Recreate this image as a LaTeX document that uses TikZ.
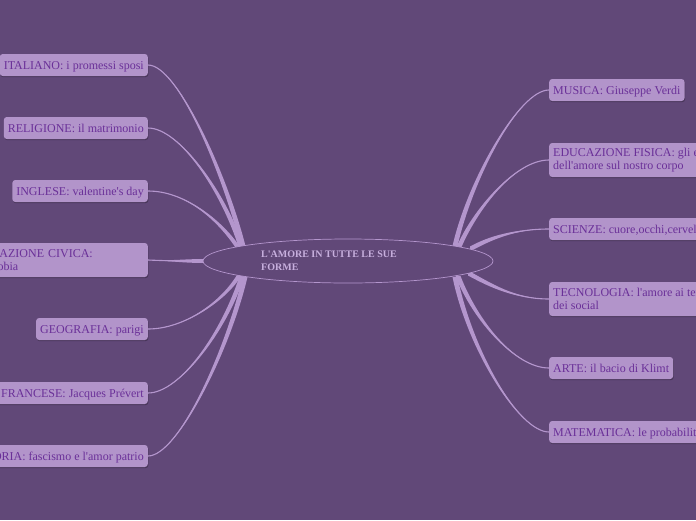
\documentclass[tikz,border=0pt]{standalone}
\usepackage{fontspec}
\setmainfont{Liberation Serif}
\usetikzlibrary{calc,shadows,shapes.geometric}
\definecolor{bg}{RGB}{97,72,120}
\definecolor{boxfill}{RGB}{178,148,202}
\definecolor{boxtext}{RGB}{106,48,152}
\definecolor{linec}{RGB}{180,150,205}
\definecolor{ctext}{RGB}{200,176,222}
\newcommand{\apo}{\textquotesingle}
\tikzset{
 topic/.style={rectangle, rounded corners=3pt, fill=boxfill, text=boxtext,
   font=\fontsize{12}{13.5}\selectfont, align=left, inner xsep=4pt, inner ysep=4pt,
   minimum height=22pt,
   drop shadow={shadow xshift=0.6pt, shadow yshift=-1.2pt, fill=black, opacity=0.25}},
 single/.style={text height=9pt, text depth=1pt},
 double/.style={minimum height=34pt},
 link/.style={draw=linec, line width=1.1pt},
}
\newcommand{\taper}[5]{%
 \fill[linec] (#1) .. controls (#2) and ($(#3)-(#5)$) .. ($(#4)-(#5)$) -- ($(#4)+(#5)$) .. controls ($(#3)+(#5)$) and (#2) .. (#1) -- cycle;
 \draw[link] (#1) .. controls (#2) and (#3) .. (#4);}
\begin{document}
\begin{tikzpicture}[x=1pt,y=-1pt]
\fill[bg] (0,0) rectangle (696,520);
\useasboundingbox (0,0) rectangle (696,520);
\clip (0,0) rectangle (696,520);
% left nodes
\node[topic, single, anchor=east] (ital) at (148,65) {ITALIANO: i promessi sposi};
\node[topic, single, anchor=east] (rel) at (148,128) {RELIGIONE: il matrimonio};
\node[topic, single, anchor=east] (ing) at (148,191) {INGLESE: valentine\apo s day};
\node[topic, double, anchor=east, text width=177pt] (civ) at (148,260) {EDUCAZIONE CIVICA:\\l\apo omofobia};
\node[topic, single, anchor=east] (geo) at (148,329) {GEOGRAFIA: parigi};
\node[topic, single, anchor=east] (fra) at (148,393) {FRANCESE: Jacques Prévert};
\node[topic, single, anchor=east] (sto) at (148,456) {STORIA: fascismo e l\apo amor patrio};
% right nodes
\node[topic, single, anchor=west] (mus) at (549,90) {MUSICA: Giuseppe Verdi};
\node[topic, double, anchor=west] (edf) at (549,160) {EDUCAZIONE FISICA: gli effetti\\dell\apo amore sul nostro corpo};
\node[topic, single, anchor=west] (sci) at (549,229) {SCIENZE: cuore,occhi,cervello};
\node[topic, double, anchor=west] (tec) at (549,299) {TECNOLOGIA: l\apo amore ai tempi\\dei social};
\node[topic, single, anchor=west] (arte) at (549,368) {ARTE: il bacio di Klimt};
\node[topic, single, anchor=west] (mat) at (549,432) {MATEMATICA: le probabilità};
% hubs
\coordinate (hL1) at (243,246);
\coordinate (hL2) at (241,247);
\coordinate (hL3) at (239,249);
\coordinate (hL4) at (204,261);
\coordinate (hL5) at (240,274);
\coordinate (hL6) at (242,276);
\coordinate (hL7) at (245,277);
\coordinate (hR1) at (455,246);
\coordinate (hR2) at (459,247);
\coordinate (hR3) at (470,249);
\coordinate (hR4) at (468,273);
\coordinate (hR5) at (458,276);
\coordinate (hR6) at (455,277);
% connectors
\taper{ital.east}{178,65}{225,175}{hL1}{2.5,0}
\taper{rel.east}{180,128}{225,195}{hL2}{2.5,0}
\taper{ing.east}{185,191}{220,220}{hL3}{2.5,0}
\taper{civ.east}{170,261}{185,261}{hL4}{0,2}
\taper{geo.east}{185,329}{225,300}{hL5}{2.5,0}
\taper{fra.east}{180,393}{225,330}{hL6}{2.5,0}
\taper{sto.east}{178,456}{228,350}{hL7}{2.5,0}
\taper{mus.west}{519,90}{470,180}{hR1}{2.5,0}
\taper{edf.west}{515,160}{475,210}{hR2}{2.5,0}
\taper{sci.west}{515,229}{490,238}{hR3}{0,2.5}
\taper{tec.west}{515,299}{490,285}{hR4}{0,2.5}
\taper{arte.west}{515,368}{475,320}{hR5}{2.5,0}
\taper{mat.west}{519,432}{470,350}{hR6}{2.5,0}
% centre
\node[ellipse, minimum width=290pt, minimum height=44pt, draw=linec, fill=bg, line width=0.7pt] (center) at (348,261) {};
\node[anchor=west, text=ctext, align=left, font=\bfseries\fontsize{10}{12.5}\selectfont, inner sep=0pt] (title) at (261,260.5) {L\apo AMORE IN TUTTE LE SUE\\FORME};
\end{tikzpicture}
\end{document}
